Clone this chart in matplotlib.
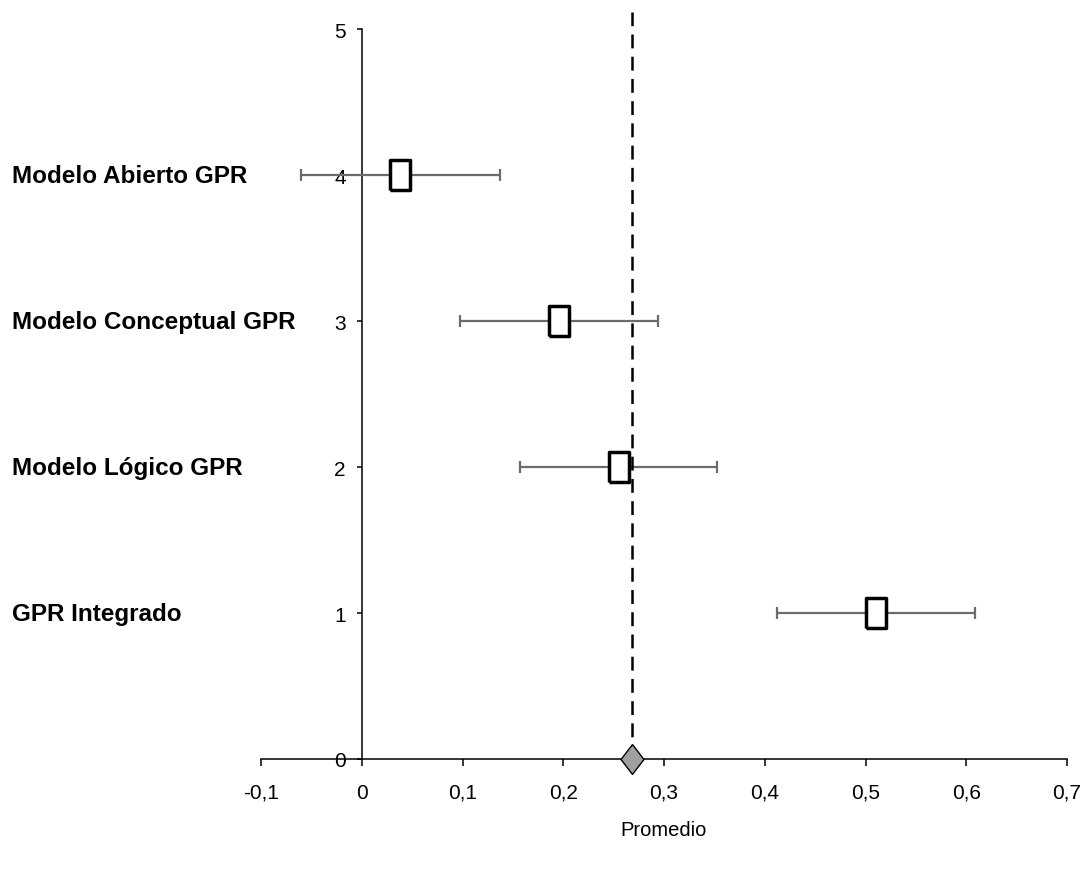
import matplotlib
matplotlib.use("Agg")
import matplotlib.pyplot as plt
from matplotlib import font_manager
from matplotlib.ticker import FuncFormatter, FixedLocator
import matplotlib.transforms as mtransforms

# ---- data ----
categories = ["Modelo Abierto GPR", "Modelo Conceptual GPR", "Modelo Lógico GPR", "GPR Integrado"]
positions = [4, 3, 2, 1]
means = [0.038, 0.196, 0.255, 0.510]
ci_low = [-0.060, 0.098, 0.157, 0.412]
ci_high = [0.137, 0.294, 0.353, 0.609]
overall_mean = 0.268
x_ticks = [-0.1, 0.0, 0.1, 0.2, 0.3, 0.4, 0.5, 0.6, 0.7]
y_ticks = [0, 1, 2, 3, 4, 5]

# ---- fonts ----
avail = {f.name for f in font_manager.fontManager.ttflist}
fam = "Liberation Sans Narrow" if "Liberation Sans Narrow" in avail else "Liberation Sans"
plt.rcParams["font.family"] = [fam, "DejaVu Sans"]
plt.rcParams["lines.scale_dashes"] = False

fig = plt.figure(figsize=(10.85, 8.7), dpi=100)
ax = fig.add_axes([261 / 1085, 110 / 870, (1067 - 261) / 1085, (760 - 12.5) / 870])
ax.set_xlim(-0.1, 0.7)
ax.set_ylim(0, 5.12)

# error bars
xerr = [[m - lo for m, lo in zip(means, ci_low)], [hi - m for m, hi in zip(means, ci_high)]]
ax.errorbar(means, positions, xerr=xerr, fmt="none", ecolor="#6b6b6b",
            elinewidth=1.6, capsize=4.5, capthick=1.6, zorder=3)

# rectangle markers (taller than wide)
rect = [(-1, -1.5), (1, -1.5), (1, 1.5), (-1, 1.5), (-1, -1.5)]
ax.plot(means, positions, linestyle="none", marker=rect, markersize=21.5,
        markerfacecolor="white", markeredgecolor="black", markeredgewidth=2.5, zorder=4)

# overall mean line and diamond
ax.axvline(overall_mean, color="black", linewidth=1.8, dashes=(10, 6), zorder=5)
diamond = [(0, 1.3), (1, 0), (0, -1.3), (-1, 0), (0, 1.3)]
ax.plot([overall_mean], [0], linestyle="none", marker=diamond, markersize=21.5,
        markerfacecolor="#a0a0a0", markeredgecolor="black", markeredgewidth=1.0,
        zorder=6, clip_on=False)

# spines
for s in ["top", "right"]:
    ax.spines[s].set_visible(False)
ax.spines["left"].set_position(("data", 0))
ax.spines["bottom"].set_position(("data", 0))
ax.spines["left"].set_bounds(0, 5)
ax.spines["bottom"].set_bounds(-0.1, 0.7)
for s in ["left", "bottom"]:
    ax.spines[s].set_linewidth(1.1)

ax.xaxis.set_major_locator(FixedLocator(x_ticks))
ax.yaxis.set_major_locator(FixedLocator(y_ticks))

def fmt(v, pos):
    if abs(v) < 1e-9:
        return "0"
    return f"{v:.1f}".replace(".", ",")

ax.xaxis.set_major_formatter(FuncFormatter(fmt))
ax.tick_params(axis="x", direction="out", length=5, width=1.1, labelsize=15, pad=12)
ax.tick_params(axis="y", direction="out", length=3.5, width=1.1, labelsize=15, pad=8)

# x label
fig.text(664 / 1085, 1 - 831 / 870, "Promedio", ha="center", va="center", fontsize=14.5)

# category labels
trans = mtransforms.blended_transform_factory(fig.transFigure, ax.transData)
for cat, p in zip(categories, positions):
    ax.text(12 / 1085, p, cat, transform=trans, ha="left", va="center",
            fontsize=17.5, fontweight="bold", clip_on=False)

fig.savefig("out.png", dpi=100)
